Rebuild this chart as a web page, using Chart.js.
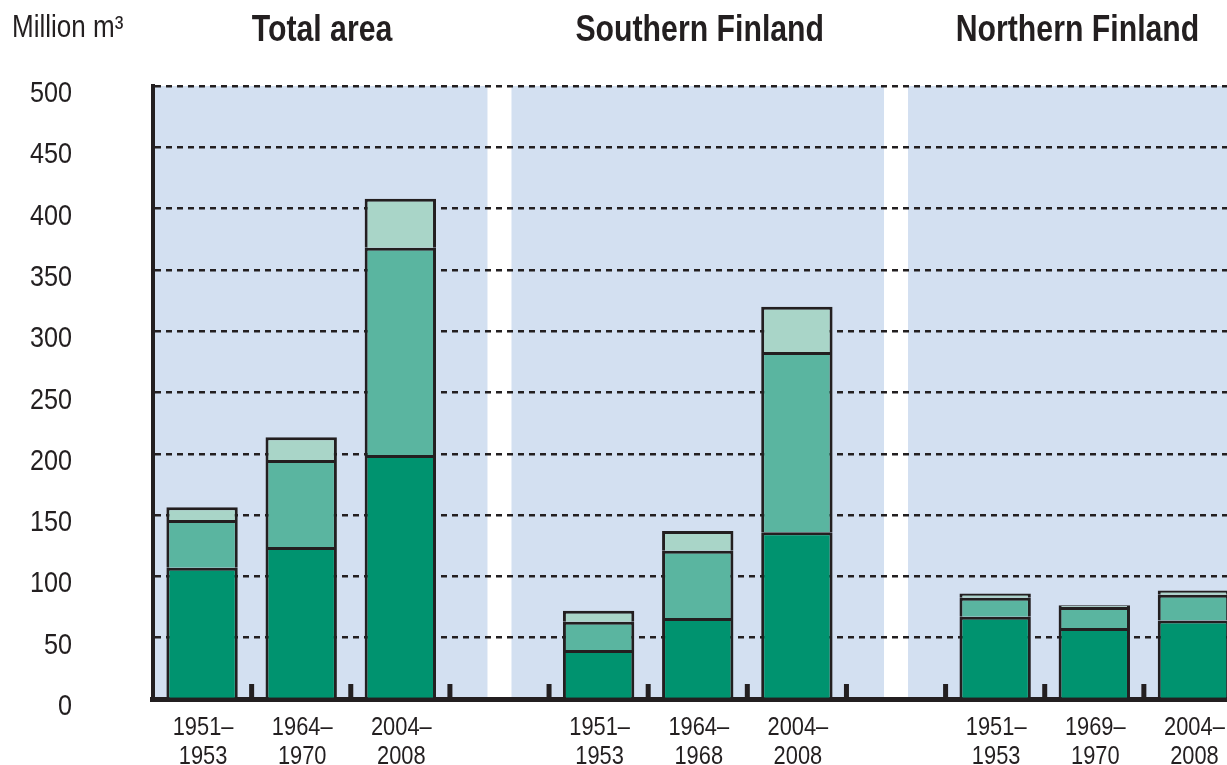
<!DOCTYPE html>
<html>
<head>
<meta charset="utf-8">
<title>Growing stock drain</title>
<script src="https://cdn.jsdelivr.net/npm/chart.js@4/dist/chart.umd.min.js"></script>
<style>
    html, body { margin: 0; padding: 0; background: #fff; overflow: hidden; }
    #wrap { width: 1227px; height: 765px; overflow: hidden; }
</style>
</head>
<body>
<div id="wrap"><canvas id="drainChart" width="1246" height="765"></canvas></div>
<script>
// ============================================
// Data
// ============================================
const periodLabels = [
    ['1951–', '1953'], ['1964–', '1970'], ['2004–', '2008'], '',
    ['1951–', '1953'], ['1964–', '1968'], ['2004–', '2008'], '',
    ['1951–', '1953'], ['1969–', '1970'], ['2004–', '2008']
];
const groupTitles = ['Total area', 'Southern Finland', 'Northern Finland'];
const gapSlots = [3, 7];

// stacked segments, bottom to top (million m³)
const seriesBottom = [107, 124, 199, null, 40, 66, 136, null, 67, 58, 64];
const seriesMiddle = [39, 71, 169, null, 23, 55, 147, null, 15.5, 17, 21];
const seriesTop    = [10.5, 18.5, 40, null, 9, 16, 37, null, 3.5, 1.5, 3.5];

const yTicks = [0, 50, 100, 150, 200, 250, 300, 350, 400, 450, 500];
const unitLabel = 'Million m³';

const INK = '#231f20';
const PANEL = '#d3e0f1';
const FONT = "'Liberation Sans', Arial, sans-serif";
const NARROW = 0.84; // squeeze Liberation Sans into a narrow face

// ============================================
// Plugins
// ============================================
const panelBackground = {
    id: 'panelBackground',
    beforeDraw(chart) {
        const { ctx, chartArea: a, scales } = chart;
        ctx.save();
        ctx.fillStyle = PANEL;
        ctx.fillRect(a.left, a.top, a.right - a.left, a.bottom - a.top);
        ctx.fillStyle = '#fff';
        gapSlots.forEach(i => {
            const x = scales.x.getPixelForValue(i);
            ctx.fillRect(x - 12, a.top, 24, a.bottom - a.top);
        });
        ctx.restore();
    }
};

const axisMarks = {
    id: 'axisMarks',
    afterDatasetsDraw(chart) {
        const { ctx, chartArea: a, scales } = chart;
        ctx.save();
        ctx.fillStyle = INK;
        for (let i = 0; i < periodLabels.length - 1; i++) {
            const x = (scales.x.getPixelForValue(i) + scales.x.getPixelForValue(i + 1)) / 2;
            ctx.fillRect(x - 2.5, a.bottom - 15, 5, 15);
        }
        ctx.restore();
    }
};

// narrow text helper
function narrowText(ctx, text, x, y, font, align) {
    ctx.save();
    ctx.font = font;
    ctx.textAlign = align;
    ctx.textBaseline = 'alphabetic';
    ctx.scale(NARROW, 1);
    ctx.fillText(text, x / NARROW, y);
    ctx.restore();
}

const labels = {
    id: 'labels',
    afterDraw(chart) {
        const { ctx, chartArea: a, scales } = chart;
        ctx.save();
        ctx.fillStyle = INK;

        // y axis values
        yTicks.forEach(v => {
            narrowText(ctx, String(v), 72, scales.y.getPixelForValue(v) + 16, '30px ' + FONT, 'right');
        });

        // periods under the bars
        periodLabels.forEach((lab, i) => {
            if (!lab) return;
            const x = scales.x.getPixelForValue(i);
            lab.forEach((line, j) => {
                narrowText(ctx, line, x + 1, a.bottom + 36 + j * 29, '26px ' + FONT, 'center');
            });
        });

        // group headings
        const g1 = scales.x.getPixelForValue(gapSlots[0]);
        const g2 = scales.x.getPixelForValue(gapSlots[1]);
        const centers = [
            (a.left + g1 - 12) / 2,
            (g1 + 12 + g2 - 12) / 2,
            (g2 + 12 + a.right) / 2
        ];
        groupTitles.forEach((t, i) => narrowText(ctx, t, centers[i] + 2, 41, 'bold 36px ' + FONT, 'center'));

        narrowText(ctx, unitLabel, 12, 37, '31px ' + FONT, 'left');
        ctx.restore();
    }
};

// ============================================
// Chart
// ============================================
function segment(data, color) {
    return {
        data: data,
        backgroundColor: color,
        borderColor: INK,
        borderWidth: 3,
        borderSkipped: 'bottom',
        barPercentage: 0.72,
        categoryPercentage: 1
    };
}

new Chart(document.getElementById('drainChart'), {
    type: 'bar',
    data: {
        labels: periodLabels,
        datasets: [
            segment(seriesBottom, '#00936f'),
            segment(seriesMiddle, '#5ab5a0'),
            segment(seriesTop, '#a9d5c8')
        ]
    },
    options: {
        responsive: false,
        animation: false,
        layout: { padding: { top: 86, right: 3, left: 0, bottom: 0 } },
        plugins: { legend: { display: false }, tooltip: { enabled: false } },
        scales: {
            x: {
                stacked: true,
                z: 1,
                grid: { display: false, drawTicks: false },
                border: { display: true, color: INK, width: 5 },
                ticks: { display: false },
                afterFit(scale) { scale.height = 66; }
            },
            y: {
                stacked: true,
                min: 0,
                max: 500,
                afterBuildTicks(scale) { scale.ticks = yTicks.map(v => ({ value: v })); },
                grid: { color: INK, lineWidth: 2.5, drawTicks: false },
                border: { display: true, color: INK, width: 4, dash: [6, 5] },
                ticks: { display: false },
                afterFit(scale) { scale.width = 152.5; }
            }
        }
    },
    plugins: [panelBackground, axisMarks, labels]
});
</script>
</body>
</html>
